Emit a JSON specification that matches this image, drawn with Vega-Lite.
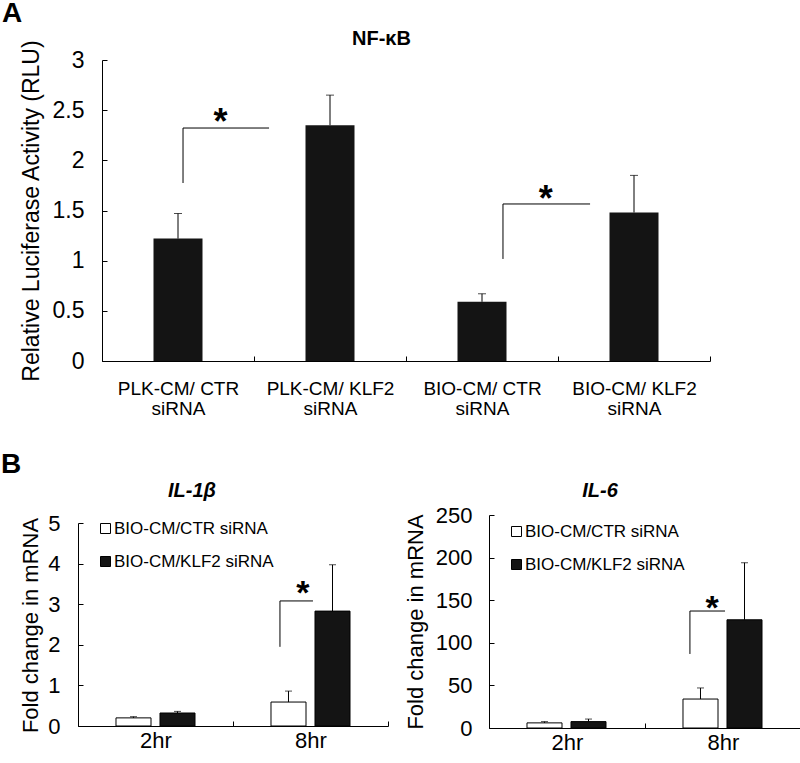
{
  "$schema": "https://vega.github.io/schema/vega-lite/v6.json",
  "padding": {"left": 0, "top": 0, "right": 0, "bottom": 0},
  "config": {
    "font": "Liberation Sans",
    "view": {"stroke": null},
    "axis": {"domainColor": "black", "tickColor": "black", "labelColor": "black", "titleColor": "black", "grid": false, "titleFontWeight": "normal", "labelFont": "Liberation Sans", "titleFont": "Liberation Sans"},
    "title": {"color": "black", "font": "Liberation Sans"},
    "legend": {"labelColor": "black", "labelFont": "Liberation Sans"}
  },
  "columns": 1,
  "spacing": 33,
  "concat": [
    {
      "width": 632,
      "height": 301,
      "title": {"text": "A", "anchor": "start", "frame": "bounds", "fontSize": 28, "fontWeight": "bold", "dx": -18, "offset": 0},
      "layer": [
        {
          "data": {"values": [
            {"condition": "PLK-CM/ CTR siRNA", "mean": 1.22, "upper": 1.47},
            {"condition": "PLK-CM/ KLF2 siRNA", "mean": 2.35, "upper": 2.65},
            {"condition": "BIO-CM/ CTR siRNA", "mean": 0.59, "upper": 0.67},
            {"condition": "BIO-CM/ KLF2 siRNA", "mean": 1.48, "upper": 1.85}
          ]},
          "encoding": {
            "x": {"field": "condition", "type": "nominal", "sort": null,
              "scale": {"paddingInner": 0, "paddingOuter": 0, "range": [24, 632]},
              "axis": {"title": null, "tickBand": "extent", "tickSize": -5, "labelPadding": 23, "labelFontSize": 19, "labelLineHeight": 20, "labelAngle": 0, "labelFlush": false,
                "labelExpr": "datum.label ? [replace(datum.label, ' siRNA', ''), 'siRNA'] : ''"}}
          },
          "layer": [
            {"mark": {"type": "bar", "size": 49, "color": "#141414"},
             "encoding": {"y": {"field": "mean", "type": "quantitative", "scale": {"domain": [0, 3], "nice": false},
               "axis": {"values": [0, 0.5, 1, 1.5, 2, 2.5, 3], "format": "~g", "offset": -24, "tickSize": -5, "labelPadding": 23, "labelFontSize": 23,
                 "title": "Relative Luciferase Activity (RLU)", "titleFontSize": 23, "titleX": -59}}}},
            {"mark": {"type": "rule", "color": "black", "strokeWidth": 1},
             "encoding": {"y": {"field": "mean", "type": "quantitative"}, "y2": {"field": "upper"}}},
            {"mark": {"type": "tick", "color": "black", "size": 8, "thickness": 1},
             "encoding": {"y": {"field": "upper", "type": "quantitative"}}}
          ]
        },
        {
          "layer": [
            {
              "data": {"values": [
                {"x": 0.533, "x2": 0.533, "y": 1.774, "y2": 2.322},
                {"x": 0.533, "x2": 1.099, "y": 2.322, "y2": 2.322},
                {"x": 2.638, "x2": 2.638, "y": 1.017, "y2": 1.565},
                {"x": 2.638, "x2": 3.211, "y": 1.565, "y2": 1.565}
              ]},
              "mark": {"type": "rule", "color": "black", "strokeWidth": 1},
              "encoding": {
                "x": {"field": "x", "type": "quantitative", "scale": {"domain": [0, 4], "nice": false, "zero": false, "range": [24, 632]},
                  "axis": {"orient": "top", "domain": false, "ticks": false, "labels": false, "title": "NF-κB", "titleFontSize": 20, "titleFontWeight": "bold", "titlePadding": 12, "titleX": 303}},
                "x2": {"field": "x2"},
                "y": {"field": "y", "type": "quantitative"},
                "y2": {"field": "y2"}
              }
            },
            {
              "data": {"values": [
                {"x": 0.78, "y": 2.26, "label": "*"},
                {"x": 2.92, "y": 1.5, "label": "*"}
              ]},
              "mark": {"type": "text", "fontSize": 36, "fontWeight": "bold", "baseline": "alphabetic", "align": "center", "color": "black"},
              "encoding": {
                "x": {"field": "x", "type": "quantitative"},
                "y": {"field": "y", "type": "quantitative"},
                "text": {"field": "label"}
              }
            }
          ]
        }
      ],
      "resolve": {"scale": {"x": "independent"}}
    },
    {
      "title": {"text": "B", "anchor": "start", "frame": "bounds", "fontSize": 28, "fontWeight": "bold", "dx": -18, "offset": 2},
      "columns": 2,
      "spacing": 14,
      "resolve": {"scale": {"fill": "independent"}, "legend": {"fill": "independent"}},
      "concat": [
        {
          "width": 310,
          "height": 211,
          "title": {"text": "IL-1β", "fontSize": 20, "fontWeight": "bold", "fontStyle": "italic", "dx": -41, "offset": 11},
          "layer": [
            {
              "data": {"values": [
                {"time": "2hr", "group": "BIO-CM/CTR siRNA", "mean": 0.2, "upper": 0.23},
                {"time": "2hr", "group": "BIO-CM/KLF2 siRNA", "mean": 0.32, "upper": 0.36},
                {"time": "8hr", "group": "BIO-CM/CTR siRNA", "mean": 0.59, "upper": 0.86},
                {"time": "8hr", "group": "BIO-CM/KLF2 siRNA", "mean": 2.83, "upper": 3.97}
              ]},
              "encoding": {
                "x": {"field": "time", "type": "nominal", "sort": null, "scale": {"paddingInner": 0, "paddingOuter": 0},
                  "axis": {"title": null, "tickBand": "extent", "tickSize": -5, "labelPadding": 9, "labelFontSize": 22, "labelAngle": 0, "labelFlush": false}},
                "xOffset": {"field": "group", "type": "nominal", "sort": null, "scale": {"paddingInner": 0.2045, "paddingOuter": 0.8636}}
              },
              "layer": [
                {"mark": {"type": "bar", "stroke": "black", "strokeWidth": 1},
                 "encoding": {
                   "y": {"field": "mean", "type": "quantitative", "scale": {"domain": [0, 5], "nice": false, "range": [211, 8]},
                     "axis": {"values": [0, 1, 2, 3, 4, 5], "tickSize": -5, "labelPadding": 23, "labelFontSize": 22, "title": "Fold change in mRNA", "titleFontSize": 22, "titleX": -36, "titleY": 110}},
                   "fill": {"field": "group", "type": "nominal", "scale": {"domain": ["BIO-CM/CTR siRNA", "BIO-CM/KLF2 siRNA"], "range": ["white", "#141414"]},
                     "legend": {"orient": "none", "legendX": 19, "legendY": 5, "title": null, "symbolType": "square", "symbolSize": 100, "symbolStrokeColor": "black", "symbolStrokeWidth": 1, "labelFontSize": 17, "rowPadding": 15, "labelOffset": 0, "padding": 0}}
                 }},
                {"mark": {"type": "rule", "color": "black", "strokeWidth": 1},
                 "encoding": {"y": {"field": "mean", "type": "quantitative"}, "y2": {"field": "upper"}}},
                {"mark": {"type": "tick", "color": "black", "size": 7, "thickness": 1},
                 "encoding": {"y": {"field": "upper", "type": "quantitative"}}}
              ]
            },
            {
              "layer": [
                {
                  "data": {"values": [
                    {"x": 1.303, "x2": 1.303, "y": 1.95, "y2": 3.08},
                    {"x": 1.303, "x2": 1.516, "y": 3.08, "y2": 3.08}
                  ]},
                  "mark": {"type": "rule", "color": "black", "strokeWidth": 1},
                  "encoding": {
                    "x": {"field": "x", "type": "quantitative", "scale": {"domain": [0, 2], "nice": false, "zero": false}, "axis": null},
                    "x2": {"field": "x2"},
                    "y": {"field": "y", "type": "quantitative"},
                    "y2": {"field": "y2"}
                  }
                },
                {
                  "data": {"values": [{"x": 1.45, "y": 3.0, "label": "*"}]},
                  "mark": {"type": "text", "fontSize": 34, "fontWeight": "bold", "baseline": "alphabetic", "align": "center", "color": "black"},
                  "encoding": {
                    "x": {"field": "x", "type": "quantitative", "axis": null},
                    "y": {"field": "y", "type": "quantitative"},
                    "text": {"field": "label"}
                  }
                }
              ]
            }
          ],
          "resolve": {"scale": {"x": "independent"}}
        },
        {
          "width": 312,
          "height": 213,
          "title": {"text": "IL-6", "fontSize": 20, "fontWeight": "bold", "fontStyle": "italic", "dx": -45, "offset": 3},
          "layer": [
            {
              "data": {"values": [
                {"time": "2hr", "group": "BIO-CM/CTR siRNA", "mean": 6, "upper": 7.5},
                {"time": "2hr", "group": "BIO-CM/KLF2 siRNA", "mean": 7.5, "upper": 10.5},
                {"time": "8hr", "group": "BIO-CM/CTR siRNA", "mean": 34, "upper": 47},
                {"time": "8hr", "group": "BIO-CM/KLF2 siRNA", "mean": 127, "upper": 194}
              ]},
              "encoding": {
                "x": {"field": "time", "type": "nominal", "sort": null, "scale": {"paddingInner": 0, "paddingOuter": 0},
                  "axis": {"title": null, "tickBand": "extent", "tickSize": -5, "labelPadding": 9, "labelFontSize": 22, "labelAngle": 0, "labelFlush": false}},
                "xOffset": {"field": "group", "type": "nominal", "sort": null, "scale": {"paddingInner": 0.2045, "paddingOuter": 0.8636}}
              },
              "layer": [
                {"mark": {"type": "bar", "stroke": "black", "strokeWidth": 1},
                 "encoding": {
                   "y": {"field": "mean", "type": "quantitative", "scale": {"domain": [0, 250], "nice": false},
                     "axis": {"values": [0, 50, 100, 150, 200, 250], "tickSize": -5, "labelPadding": 22, "labelFontSize": 22, "title": "Fold change in mRNA", "titleFontSize": 22, "titleX": -62}},
                   "fill": {"field": "group", "type": "nominal", "scale": {"domain": ["BIO-CM/CTR siRNA", "BIO-CM/KLF2 siRNA"], "range": ["white", "#141414"]},
                     "legend": {"orient": "none", "legendX": 19, "legendY": 8, "title": null, "symbolType": "square", "symbolSize": 100, "symbolStrokeColor": "black", "symbolStrokeWidth": 1, "labelFontSize": 17, "rowPadding": 15, "labelOffset": 0, "padding": 0}}
                 }},
                {"mark": {"type": "rule", "color": "black", "strokeWidth": 1},
                 "encoding": {"y": {"field": "mean", "type": "quantitative"}, "y2": {"field": "upper"}}},
                {"mark": {"type": "tick", "color": "black", "size": 7, "thickness": 1},
                 "encoding": {"y": {"field": "upper", "type": "quantitative"}}}
              ]
            },
            {
              "layer": [
                {
                  "data": {"values": [
                    {"x": 1.288, "x2": 1.288, "y": 86.9, "y2": 137.3},
                    {"x": 1.288, "x2": 1.513, "y": 137.3, "y2": 137.3}
                  ]},
                  "mark": {"type": "rule", "color": "black", "strokeWidth": 1},
                  "encoding": {
                    "x": {"field": "x", "type": "quantitative", "scale": {"domain": [0, 2], "nice": false, "zero": false}, "axis": null},
                    "x2": {"field": "x2"},
                    "y": {"field": "y", "type": "quantitative"},
                    "y2": {"field": "y2"}
                  }
                },
                {
                  "data": {"values": [{"x": 1.43, "y": 128.5, "label": "*"}]},
                  "mark": {"type": "text", "fontSize": 34, "fontWeight": "bold", "baseline": "alphabetic", "align": "center", "color": "black"},
                  "encoding": {
                    "x": {"field": "x", "type": "quantitative", "axis": null},
                    "y": {"field": "y", "type": "quantitative"},
                    "text": {"field": "label"}
                  }
                }
              ]
            }
          ],
          "resolve": {"scale": {"x": "independent"}}
        }
      ]
    }
  ]
}
